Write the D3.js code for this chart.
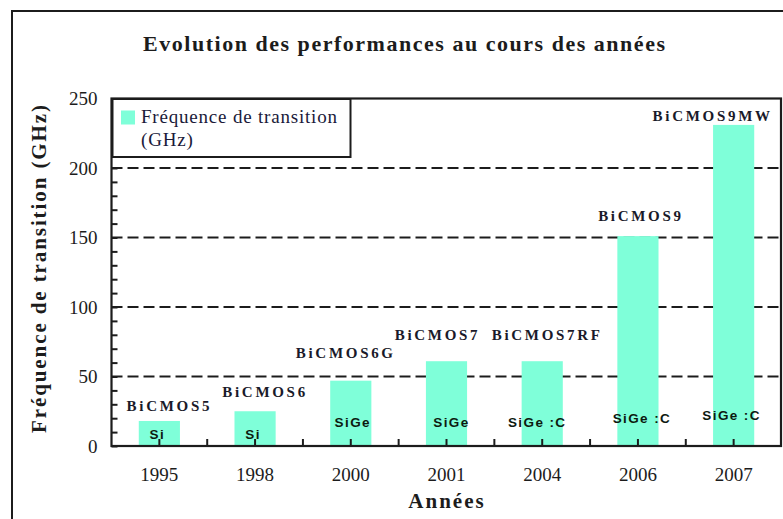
<!DOCTYPE html>
<html>
<head>
<meta charset="utf-8">
<script src="https://cdn.jsdelivr.net/npm/d3@7"></script>
<style>
  body { margin: 0; background: #fff; }
</style>
</head>
<body>
<div class="canvas"></div>
<script>
// data
const years = ['1995', '1998', '2000', '2001', '2004', '2006', '2007'];
const ftGHz = [18, 25, 47, 61, 61, 151, 231];
const processes = ['BiCMOS5', 'BiCMOS6', 'BiCMOS6G', 'BiCMOS7', 'BiCMOS7RF', 'BiCMOS9', 'BiCMOS9MW'];
const materials = ['Si', 'Si', 'SiGe', 'SiGe', 'SiGe :C', 'SiGe :C', 'SiGe :C'];
const yTicks = [0, 50, 100, 150, 200, 250];
const gridTicks = [50, 100, 150, 200];

const barColor = '#7fffd9';
const ink = '#1c1c1c';
const serif = '"Liberation Serif", "Times New Roman", serif';
const sans = '"Liberation Sans", Arial, sans-serif';

const svg = d3.select('.canvas').append('svg')
    .attr('width', 783)
    .attr('height', 519)
    .style('display', 'block')
    .style('font-family', serif);

const margin = { left: 111.5, top: 98.5, right: 2, bottom: 73 };
const graphWidth = 783 - margin.left - margin.right;
const graphHeight = 519 - margin.top - margin.bottom;

// outer frame (runs off the right and bottom edges)
svg.append('rect')
    .attr('x', 12).attr('y', 11)
    .attr('width', 800).attr('height', 540)
    .attr('fill', 'none').attr('stroke', ink).attr('stroke-width', 2);

svg.append('text')
    .attr('x', 404).attr('y', 51)
    .attr('text-anchor', 'middle')
    .attr('font-size', 22).attr('font-weight', 'bold')
    .attr('textLength', 522).attr('lengthAdjust', 'spacing')
    .attr('fill', ink)
    .text('Evolution des performances au cours des années');

const graph = svg.append('g')
    .attr('transform', `translate(${margin.left},${margin.top})`);

// scales
const y = d3.scaleLinear()
    .domain([0, 250])
    .range([graphHeight, 0]);

const x = d3.scaleBand()
    .domain(years)
    .range([0, 670])
    .paddingInner(0.57)
    .paddingOuter(0.285);

// dashed grid
graph.selectAll('line.grid')
    .data(gridTicks)
    .enter().append('line')
    .attr('class', 'grid')
    .attr('x1', 0).attr('x2', graphWidth)
    .attr('y1', d => y(d)).attr('y2', d => y(d))
    .attr('stroke', ink).attr('stroke-width', 2)
    .attr('stroke-dasharray', '11,5');

// bars
graph.selectAll('rect.bar')
    .data(ftGHz)
    .enter().append('rect')
    .attr('class', 'bar')
    .attr('x', (d, i) => x(years[i]))
    .attr('width', x.bandwidth())
    .attr('y', d => y(d))
    .attr('height', d => graphHeight - y(d))
    .attr('fill', barColor);

// minor ticks on the inside of the y axis
const yMinor = graph.append('g')
    .call(d3.axisRight(y).tickValues(d3.range(0, 251, 10)).tickSize(6).tickFormat(''));
yMinor.select('.domain').remove();
yMinor.selectAll('line').attr('stroke', ink).attr('stroke-width', 2);

// y labels
const yAxisGroup = graph.append('g')
    .call(d3.axisLeft(y).tickValues(yTicks).tickSize(0).tickPadding(14));
yAxisGroup.select('.domain').remove();
yAxisGroup.selectAll('text')
    .attr('font-family', serif)
    .attr('font-size', 19)
    .attr('fill', ink);

// x axis: ticks at the bar centres pointing up
const xAxisGroup = graph.append('g')
    .attr('transform', `translate(0,${graphHeight})`)
    .call(d3.axisBottom(x).tickSizeInner(-7).tickSizeOuter(0).tickPadding(22));
xAxisGroup.select('.domain').remove();
xAxisGroup.selectAll('line').attr('stroke', ink).attr('stroke-width', 2);
xAxisGroup.selectAll('text')
    .attr('font-family', serif)
    .attr('font-size', 19)
    .attr('fill', ink);

// ticks between categories
graph.selectAll('line.sep')
    .data(years.slice(1))
    .enter().append('line')
    .attr('class', 'sep')
    .attr('x1', d => x(d) - x.step() * x.paddingInner() / 2)
    .attr('x2', d => x(d) - x.step() * x.paddingInner() / 2)
    .attr('y1', graphHeight).attr('y2', graphHeight - 7)
    .attr('stroke', ink).attr('stroke-width', 2);

// plot frame
graph.append('rect')
    .attr('x', 0).attr('y', 0)
    .attr('width', graphWidth).attr('height', graphHeight)
    .attr('fill', 'none').attr('stroke', ink).attr('stroke-width', 2.2);

// process names above the bars (hand nudged like in the original)
const lift = [15, 20, 28, 26, 26, 20, 9];
const shift = [10, 10, -5, -9, 5, 3, -21];
graph.selectAll('text.proc')
    .data(processes)
    .enter().append('text')
    .attr('class', 'proc')
    .attr('x', (d, i) => x(years[i]) + x.bandwidth() / 2 + shift[i])
    .attr('y', (d, i) => y(ftGHz[i]) - lift[i])
    .attr('dy', '0.35em')
    .attr('text-anchor', 'middle')
    .attr('font-size', 15).attr('font-weight', 'bold')
    .attr('letter-spacing', 2.7)
    .attr('fill', '#1a1a2a')
    .text(d => d);

// material inside the bars
const matUp = [12, 12, 24, 24, 24, 28, 31];
const matShift = [-2, -2, 2, 5, -5, 4, -2];
graph.selectAll('text.mat')
    .data(materials)
    .enter().append('text')
    .attr('class', 'mat')
    .attr('x', (d, i) => x(years[i]) + x.bandwidth() / 2 + matShift[i])
    .attr('y', graphHeight)
    .attr('dy', (d, i) => -matUp[i] + 5)
    .attr('text-anchor', 'middle')
    .style('font-family', sans)
    .attr('font-size', 13.5).attr('font-weight', 'bold')
    .attr('letter-spacing', 1.4)
    .attr('fill', '#0d1a10')
    .text(d => d);

// legend
const legend = graph.append('g');
legend.append('rect')
    .attr('x', 1).attr('y', 0.5)
    .attr('width', 238).attr('height', 58)
    .attr('fill', '#fff').attr('stroke', ink).attr('stroke-width', 2);
legend.append('rect')
    .attr('x', 9.5).attr('y', 12)
    .attr('width', 14).attr('height', 14)
    .attr('fill', barColor);
legend.append('text')
    .attr('x', 29.5).attr('y', 24)
    .attr('font-size', 19).attr('letter-spacing', 0.8)
    .attr('fill', '#1a1a3a')
    .text('Fréquence de transition');
legend.append('text')
    .attr('x', 29.5).attr('y', 47.5)
    .attr('font-size', 19).attr('letter-spacing', 0.8)
    .attr('fill', '#1a1a3a')
    .text('(GHz)');

// axis titles
svg.append('text')
    .attr('transform', 'translate(46,269) rotate(-90)')
    .attr('text-anchor', 'middle')
    .attr('font-size', 21).attr('font-weight', 'bold')
    .attr('textLength', 328).attr('lengthAdjust', 'spacing')
    .attr('fill', ink)
    .text('Fréquence de transition (GHz)');

svg.append('text')
    .attr('x', 447).attr('y', 508)
    .attr('text-anchor', 'middle')
    .attr('font-size', 21).attr('font-weight', 'bold')
    .attr('letter-spacing', 2)
    .attr('fill', ink)
    .text('Années');
</script>
</body>
</html>
